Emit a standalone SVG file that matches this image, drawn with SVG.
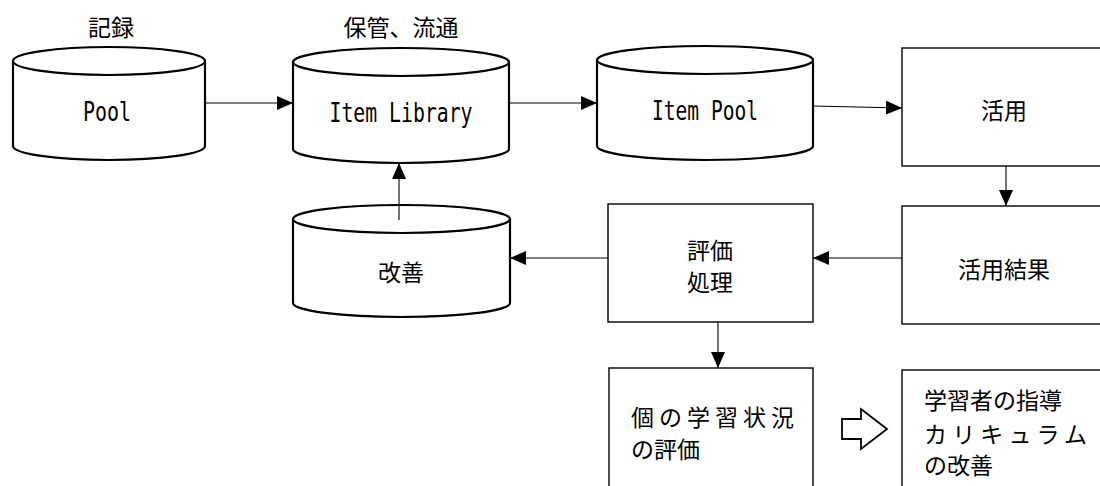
<svg xmlns="http://www.w3.org/2000/svg" width="1100" height="486" viewBox="0 0 1100 486">
  <defs>
    <marker id="arrow" markerUnits="userSpaceOnUse" markerWidth="16" markerHeight="14" refX="16" refY="7" orient="auto">
      <path d="M0,0 L16,7 L0,14 z" fill="#000"/>
    </marker>
    <style>
      .cyl { fill: #fff; stroke: #000; stroke-width: 2.2; }
      .box { fill: #fff; stroke: #000; stroke-width: 1.4; }
      .conn { fill: none; stroke: #000; stroke-width: 1.1; marker-end: url(#arrow); }
      .jp { font-family: "Noto Sans CJK JP", "Noto Sans", sans-serif; font-size: 23px; fill: #000; }
      .en { font-family: "DejaVu Sans Mono", "Liberation Mono", monospace; font-size: 27px; fill: #000; }
      .mid { text-anchor: middle; }
    </style>
  </defs>
  <rect width="1100" height="486" fill="#fff"/>

  <!-- captions above the stores -->
  <text class="jp mid" x="111" y="36">記録</text>
  <text class="jp mid" x="401" y="36">保管、流通</text>

  <!-- data stores (cylinders) -->
  <g id="pool">
    <path class="cyl" d="M13,61 A96,14 0 0 1 205,61 L205,146 A96,14 0 0 1 13,146 Z"/>
    <path class="cyl" fill="none" d="M13,61 A96,14 0 0 0 205,61"/>
    <text class="en mid" x="107" y="121" textLength="48" lengthAdjust="spacingAndGlyphs">Pool</text>
  </g>
  <g id="item-library">
    <path class="cyl" d="M293,62 A108,14 0 0 1 509,62 L509,149 A108,14 0 0 1 293,149 Z"/>
    <path class="cyl" fill="none" d="M293,62 A108,14 0 0 0 509,62"/>
    <text class="en mid" x="401" y="122" textLength="143" lengthAdjust="spacingAndGlyphs">Item Library</text>
  </g>
  <g id="item-pool">
    <path class="cyl" d="M597,60 A108,14 0 0 1 813,60 L813,146 A108,14 0 0 1 597,146 Z"/>
    <path class="cyl" fill="none" d="M597,60 A108,14 0 0 0 813,60"/>
    <text class="en mid" x="705" y="120" textLength="106" lengthAdjust="spacingAndGlyphs">Item Pool</text>
  </g>
  <g id="kaizen">
    <path class="cyl" d="M293,219 A108.5,14 0 0 1 510,219 L510,303 A108.5,14 0 0 1 293,303 Z"/>
    <path class="cyl" fill="none" d="M293,219 A108.5,14 0 0 0 510,219"/>
    <text class="jp mid" x="401" y="281">改善</text>
  </g>

  <!-- process boxes -->
  <g id="katsuyou">
    <rect class="box" x="902" y="48" width="206" height="118"/>
    <text class="jp mid" x="1004" y="119">活用</text>
  </g>
  <g id="katsuyou-kekka">
    <rect class="box" x="902" y="206" width="206" height="118"/>
    <text class="jp mid" x="1004" y="278">活用結果</text>
  </g>
  <g id="hyouka-shori">
    <rect class="box" x="608" y="204" width="205" height="118"/>
    <text class="jp" x="687" y="259">評価</text>
    <text class="jp" x="687" y="291">処理</text>
  </g>
  <g id="kobetsu-hyouka">
    <rect class="box" x="609" y="368" width="204" height="140"/>
    <text class="jp" x="631" y="426" textLength="163" lengthAdjust="spacing">個の学習状況</text>
    <text class="jp" x="631" y="458">の評価</text>
  </g>
  <g id="shidou-kaizen">
    <rect class="box" x="902" y="370" width="206" height="140"/>
    <text class="jp" x="924" y="409">学習者の指導</text>
    <text class="jp" x="924" y="443" textLength="163" lengthAdjust="spacing">カリキュラム</text>
    <text class="jp" x="924" y="474">の改善</text>
  </g>

  <!-- hollow block arrow between the two lower boxes -->
  <g id="block-arrow">
    <path d="M842,419 L861,419 L861,409 L887,429 L861,449 L861,439 L842,439 Z" fill="#fff" stroke="#000" stroke-width="1.8" stroke-linejoin="miter"/>
  </g>

  <!-- connectors -->
  <g id="connectors">
    <path class="conn" d="M205,103 L293,103"/>
    <path class="conn" d="M509,103 L597,103"/>
    <path class="conn" d="M813,106 L902,108"/>
    <path class="conn" d="M1006,166 L1006,206"/>
    <path class="conn" d="M902,258 L813,258"/>
    <path class="conn" d="M608,258 L510,258"/>
    <path class="conn" d="M399,220 L399,163"/>
    <path class="conn" d="M718,322 L718,368"/>
  </g>
</svg>
